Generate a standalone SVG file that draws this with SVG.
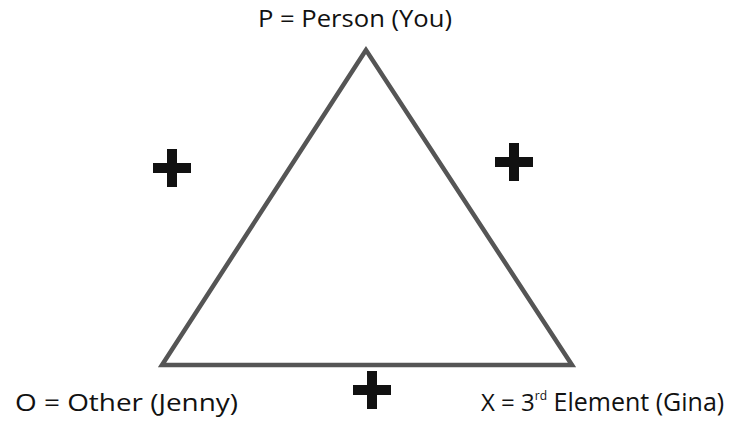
<svg xmlns="http://www.w3.org/2000/svg" width="747" height="443" viewBox="0 0 747 443">
<style>
.lbl{font-family:"Open Sans","Liberation Sans",sans-serif;font-size:24px;fill:#111}
.plus{fill:#111}
.edge{fill:none;stroke:#555;stroke-width:4.5;stroke-linejoin:miter}
</style>
<defs>
<path id="plus" class="plus" d="M-5,-19 H5 V-5 H19 V5 H5 V19 H-5 V5 H-19 V-5 H-5 Z"/>
</defs>
<rect width="747" height="443" fill="#fff"/>
<g id="connectors">
<polygon class="edge" points="366,50 162,365 572,365"/>
</g>
<g id="node-p"><text class="lbl" x="355" y="27" text-anchor="middle" textLength="194" lengthAdjust="spacingAndGlyphs">P = Person (You)</text></g>
<g id="node-o"><text class="lbl" x="15" y="411" textLength="223" lengthAdjust="spacingAndGlyphs">O = Other (Jenny)</text></g>
<g id="node-x"><text class="lbl" x="481" y="411">X = 3<tspan dy="-11" font-size="12">rd</tspan><tspan dy="11" font-size="25"> Element (Gina)</tspan></text></g>
<g id="plus-left"><use href="#plus" x="172" y="168"/></g>
<g id="plus-right"><use href="#plus" x="514" y="162"/></g>
<g id="plus-bottom"><use href="#plus" x="372" y="390"/></g>
</svg>
